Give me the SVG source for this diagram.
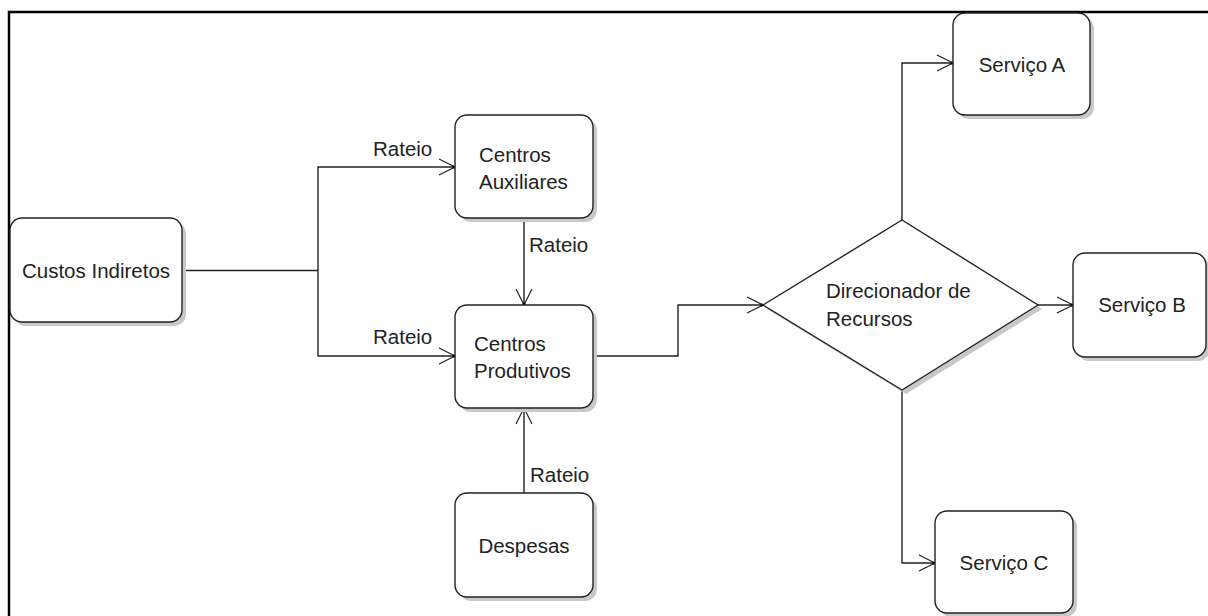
<svg xmlns="http://www.w3.org/2000/svg" width="1208" height="616" viewBox="0 0 1208 616">
<style>
.box{fill:#fff;stroke:#222;stroke-width:1.4}
.sh{fill:#c8c8c8;stroke:none}
.ln{fill:none;stroke:#222;stroke-width:1.4}
.t{font-family:"Liberation Sans",Arial,sans-serif;font-size:20.5px;fill:#222}
.c{text-anchor:middle}
</style>
<defs>
<marker id="arr" markerUnits="userSpaceOnUse" markerWidth="40" markerHeight="40" viewBox="-20 -20 40 40" refX="0" refY="0" orient="auto">
<path d="M-16,-8 L0,0 L-16,8" fill="none" stroke="#222" stroke-width="1.2"/>
<circle cx="-1" cy="0" r="1.6" fill="#000"/>
</marker>
</defs>
<rect width="1208" height="616" fill="#fff"/>
<path d="M9,616 V12 H1208" fill="none" stroke="#000" stroke-width="2.5"/>

<g id="connectors">
<path class="ln" d="M182,270.5 H318"/>
<path class="ln" d="M318,270.5 V167 H455" marker-end="url(#arr)"/>
<path class="ln" d="M318,270.5 V356 H455" marker-end="url(#arr)"/>
<path class="ln" d="M524,218 V305" marker-end="url(#arr)"/>
<path class="ln" d="M524,493 V408" marker-end="url(#arr)"/>
<path class="ln" d="M593,356 H678 V305 H763" marker-end="url(#arr)"/>
<path class="ln" d="M902,220 V63 H953" marker-end="url(#arr)"/>
<path class="ln" d="M1038,305 H1073" marker-end="url(#arr)"/>
<path class="ln" d="M902,390 V563 H935" marker-end="url(#arr)"/>
<text class="t" x="373" y="156">Rateio</text>
<text class="t" x="373" y="344">Rateio</text>
<text class="t" x="529" y="252">Rateio</text>
<text class="t" x="530" y="482">Rateio</text>
</g>

<g id="custos">
<rect class="sh" x="14" y="222" width="172" height="104" rx="12"/>
<rect class="box" x="10" y="218" width="172" height="104" rx="12"/>
<text class="t c" x="96" y="278">Custos Indiretos</text>
</g>

<g id="auxiliares">
<rect class="sh" x="459" y="119" width="138" height="103" rx="12"/>
<rect class="box" x="455" y="115" width="138" height="103" rx="12"/>
<text class="t" x="479" y="162">Centros</text>
<text class="t" x="479" y="189">Auxiliares</text>
</g>

<g id="produtivos">
<rect class="sh" x="459" y="309" width="138" height="103" rx="12"/>
<rect class="box" x="455" y="305" width="138" height="103" rx="12"/>
<text class="t" x="474" y="351">Centros</text>
<text class="t" x="474" y="378">Produtivos</text>
</g>

<g id="despesas">
<rect class="sh" x="459" y="497" width="138" height="104" rx="12"/>
<rect class="box" x="455" y="493" width="138" height="104" rx="12"/>
<text class="t c" x="524" y="553">Despesas</text>
</g>

<g id="direcionador">
<polygon class="sh" points="767,309 906,224 1042,309 906,394"/>
<polygon class="box" points="763,305 902,220 1038,305 902,390"/>
<text class="t" x="826" y="298">Direcionador de</text>
<text class="t" x="826" y="326">Recursos</text>
</g>

<g id="servicoA">
<rect class="sh" x="957" y="17" width="137" height="102" rx="12"/>
<rect class="box" x="953" y="13" width="137" height="102" rx="12"/>
<text class="t c" x="1022" y="72">Serviço A</text>
</g>

<g id="servicoB">
<rect class="sh" x="1077" y="257" width="133" height="104" rx="12"/>
<rect class="box" x="1073" y="253" width="133" height="104" rx="12"/>
<text class="t c" x="1142" y="312">Serviço B</text>
</g>

<g id="servicoC">
<rect class="sh" x="939" y="515" width="138" height="102" rx="12"/>
<rect class="box" x="935" y="511" width="138" height="102" rx="12"/>
<text class="t c" x="1004" y="570">Serviço C</text>
</g>
</svg>
